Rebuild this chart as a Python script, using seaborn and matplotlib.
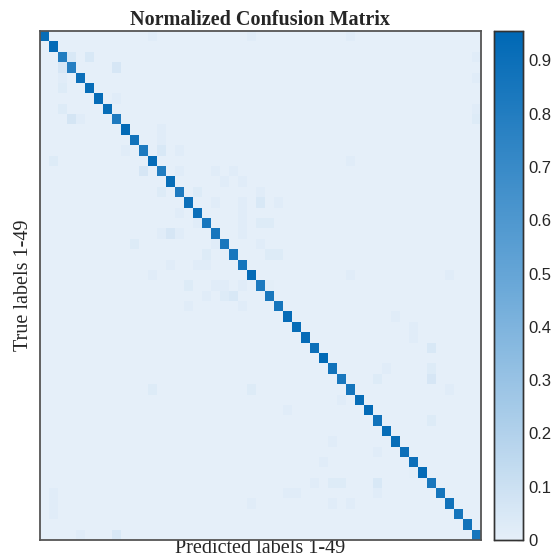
import numpy as np
import pandas as pd
import seaborn as sns
import matplotlib
matplotlib.use("Agg")
import matplotlib.pyplot as plt
from matplotlib.colors import LinearSegmentedColormap

n_classes = 49
class_labels = [str(i) for i in range(1, n_classes + 1)]

# diagonal (correct classification rates), rows 1..49
diag_values = [0.92, 0.93, 0.80, 0.78, 0.90, 0.92, 0.93, 0.92, 0.82, 0.94,
               0.88, 0.82, 0.93, 0.80, 0.92, 0.82, 0.90, 0.90, 0.85, 0.85,
               0.84, 0.84, 0.86, 0.94, 0.82, 0.84, 0.86, 0.93, 0.92, 0.93,
               0.90, 0.95, 0.88, 0.84, 0.86, 0.92, 0.94, 0.88, 0.92, 0.92,
               0.90, 0.90, 0.93, 0.84, 0.86, 0.88, 0.86, 0.88, 0.86]

# off-diagonal confusions: (true row, predicted col, value), 0-based
off_rows = [0, 0, 0, 2, 2, 2, 3, 3, 4, 4, 5, 6, 7, 7, 8, 8, 8, 9, 10, 11, 11, 11,
            12, 12, 13, 13, 13, 13, 14, 14, 15, 15, 15, 16, 16, 16, 16, 17, 17,
            18, 18, 18, 18, 19, 19, 19, 19, 20, 20, 20, 21, 21, 21, 22, 22, 22,
            23, 23, 23, 24, 24, 24, 24, 24, 25, 25, 25, 26, 26, 27, 28, 29, 30,
            32, 32, 33, 33, 34, 34, 34, 35, 36, 37, 39, 40, 41, 42, 43, 43, 43,
            43, 44, 44, 44, 44, 45, 45, 45, 45, 46, 48, 48]
off_cols = [12, 23, 34, 3, 5, 48, 2, 8, 2, 48, 2, 8, 2, 48, 3, 4, 48, 13, 13, 9, 13, 15,
            1, 34, 11, 15, 19, 21, 20, 22, 13, 17, 24, 19, 22, 24, 26, 15, 22,
            17, 22, 24, 25, 13, 14, 15, 22, 10, 19, 24, 18, 25, 26, 14, 17, 18,
            12, 34, 45, 16, 19, 20, 22, 25, 18, 20, 21, 16, 22, 39, 41, 41, 43,
            38, 43, 37, 43, 12, 23, 45, 33, 27, 43, 32, 37, 31, 41, 30, 32, 33,
            37, 1, 27, 28, 37, 1, 23, 32, 34, 1, 4, 8]
off_values = [0.02, 0.02, 0.02, 0.05, 0.05, 0.02, 0.06, 0.06, 0.02, 0.02, 0.03, 0.02,
              0.03, 0.02, 0.07, 0.02, 0.03, 0.02, 0.02, 0.02, 0.05, 0.02,
              0.03, 0.02, 0.06, 0.02, 0.02, 0.02, 0.02, 0.02, 0.03, 0.03, 0.02,
              0.02, 0.02, 0.05, 0.02, 0.02, 0.02, 0.02, 0.02, 0.03, 0.03,
              0.02, 0.06, 0.02, 0.02, 0.03, 0.02, 0.02, 0.03, 0.03, 0.03,
              0.02, 0.02, 0.02, 0.02, 0.02, 0.02, 0.03, 0.02, 0.02, 0.02, 0.01,
              0.02, 0.03, 0.05, 0.02, 0.02, 0.02, 0.02, 0.02, 0.05,
              0.02, 0.03, 0.03, 0.06, 0.03, 0.03, 0.02, 0.02, 0.02, 0.03,
              0.02, 0.02, 0.02, 0.01, 0.02, 0.03, 0.03, 0.05, 0.02, 0.02,
              0.02, 0.02, 0.02, 0.02, 0.02, 0.02, 0.02, 0.02, 0.05]

cbar_ticks = [0, 0.1, 0.2, 0.3, 0.4, 0.5, 0.6, 0.7, 0.8, 0.9]
cbar_tick_labels = ["0", "0.1", "0.2", "0.3", "0.4", "0.5", "0.6", "0.7", "0.8", "0.9"]

matrix = np.zeros((n_classes, n_classes))
for i, v in enumerate(diag_values):
    matrix[i, i] = v
for r, c, v in zip(off_rows, off_cols, off_values):
    matrix[r, c] = v
df = pd.DataFrame(matrix, index=class_labels, columns=class_labels)

cmap = LinearSegmentedColormap.from_list(
    "blues_custom", [(0.0, "#e5eff9"), (0.5, "#6aa8d8"), (1.0, "#0068b5")])

sns.set_theme(style="white")
plt.rcParams['font.family'] = ['Liberation Serif', 'DejaVu Serif']
serif = ["Liberation Serif", "DejaVu Serif"]

fig = plt.figure(figsize=(5.55, 5.59), dpi=100)
ax = fig.add_axes([40 / 555, 1 - 540 / 559, 441 / 555, 509 / 559])
cax = fig.add_axes([494 / 555, 1 - 540 / 559, 29 / 555, 509 / 559])

sns.heatmap(df, ax=ax, cbar_ax=cax, cmap=cmap, vmin=0, vmax=0.955,
            xticklabels=False, yticklabels=False, square=False)

for s in ax.spines.values():
    s.set_visible(True)
    s.set_color("#555555")
    s.set_linewidth(1.3)

ax.set_title("Normalized Confusion Matrix", fontsize=14.5, fontweight="bold",
             fontfamily=serif, pad=4)
ax.set_xlabel("Predicted labels 1-49", fontsize=14.5, fontfamily=serif, labelpad=-1)
ax.set_ylabel("True labels 1-49", fontsize=14.5, fontfamily=serif, labelpad=5)

cax.set_yticks(cbar_ticks)
cax.set_yticklabels(cbar_tick_labels)
cax.tick_params(axis="y", direction="in", length=4.5, width=0.8, color="#333333",
                labelsize=12, pad=4, right=True, left=False)
for lbl in cax.get_yticklabels():
    lbl.set_fontfamily(["Liberation Sans", "DejaVu Sans"])
for s in cax.spines.values():
    s.set_visible(True)
    s.set_color("#333333")
    s.set_linewidth(1.0)

fig.savefig("out.png", dpi=100)
